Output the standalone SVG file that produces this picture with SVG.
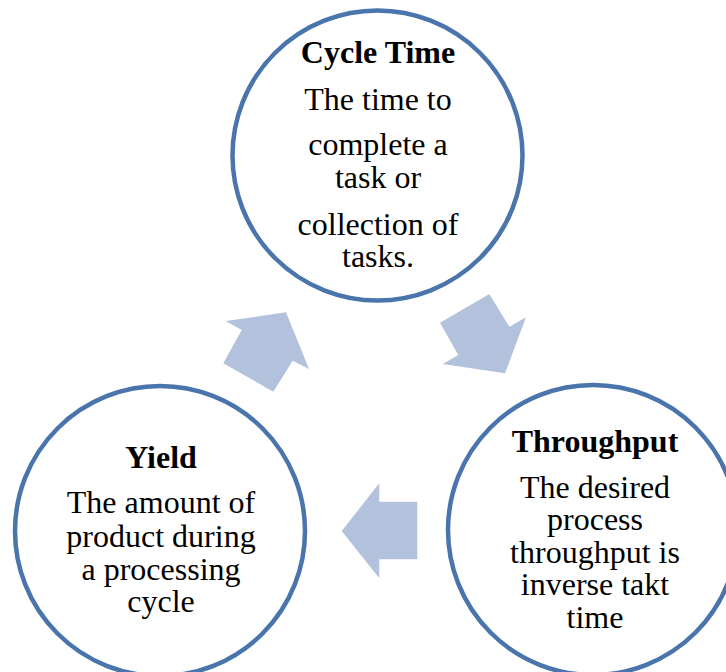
<svg xmlns="http://www.w3.org/2000/svg" width="726" height="672" viewBox="0 0 726 672">
<style>
.node{fill:#ffffff;stroke:#4a75ac;stroke-width:4.5}
.arrow{fill:#b2c1dc;stroke:none}
text{font-family:"Liberation Serif","Times New Roman",serif;fill:#000;text-anchor:middle;font-size:32px}
.title{font-weight:bold}
</style>
<rect width="726" height="672" fill="#ffffff"/>
<g id="connectors">
<polygon class="arrow" points="225.7,321 286,312.3 309,369 292.7,360.7 273.3,391.7 223.3,363.3 241.7,330"/>
<polygon class="arrow" points="489.3,294 509.3,326.7 526,317.3 505,373.3 442.7,364 458.3,355 440,322.7"/>
<polygon class="arrow" points="341.7,531 379.3,483.3 379.3,501.7 417.3,501.7 417.3,559.3 379.3,559.3 379.3,578.3"/>
</g>
<g id="cycle-time">
<circle class="node" cx="377.5" cy="155.5" r="145"/>
<text class="title" x="378" y="63">Cycle Time</text>
<text x="378" y="110">The time to</text>
<text x="378" y="155">complete a</text>
<text x="378" y="188">task or</text>
<text x="378" y="235">collection of</text>
<text x="378" y="267">tasks.</text>
</g>
<g id="throughput">
<circle class="node" cx="593" cy="530" r="145"/>
<text class="title" x="595" y="452">Throughput</text>
<text x="595" y="498">The desired</text>
<text x="595" y="530">process</text>
<text x="595" y="563">throughput is</text>
<text x="595" y="595">inverse takt</text>
<text x="595" y="628">time</text>
</g>
<g id="yield">
<circle class="node" cx="160" cy="531" r="145"/>
<text class="title" x="161" y="468">Yield</text>
<text x="161" y="513">The amount of</text>
<text x="161" y="547">product during</text>
<text x="161" y="580">a processing</text>
<text x="161" y="612">cycle</text>
</g>
</svg>
